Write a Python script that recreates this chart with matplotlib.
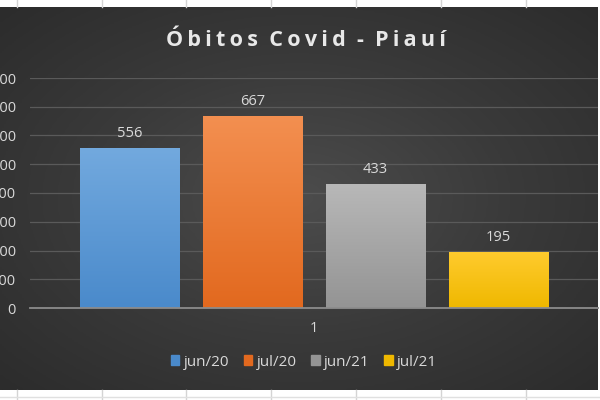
import matplotlib
matplotlib.use('Agg')
import matplotlib.pyplot as plt
from matplotlib.patches import Rectangle
from matplotlib.lines import Line2D
from matplotlib.colors import LinearSegmentedColormap
import numpy as np

months = ['jun/20', 'jul/20', 'jun/21', 'jul/21']
deaths = [556, 667, 433, 195]
category = ['1']
yticks = [0, 100, 200, 300, 400, 500, 600, 700, 800]
title = 'Óbitos Covid - Piauí'

colors_top = ['#72a9de', '#f38f50', '#b8b8b8', '#ffcb2e']
colors_bot = ['#4a8acb', '#e2691f', '#949494', '#efb800']

fig = plt.figure(figsize=(6, 4), dpi=100)
fig.patch.set_facecolor('white')

# dark chart panel with radial shading
bg = fig.add_axes([0, 10 / 400, 598 / 600, 383 / 400])
yy, xx = np.mgrid[-1:1:200j, -1:1:300j]
r = np.sqrt(xx ** 2 + yy ** 2)
bg_cmap = LinearSegmentedColormap.from_list('bg', ['#4c4c4c', '#3a3a3a', '#2c2c2c'])
bg.imshow(r, cmap=bg_cmap, aspect='auto', extent=[0, 1, 0, 1])
bg.set_axis_off()

# spreadsheet grid peeking through at top and bottom
for x in [17, 102, 186, 271, 356, 441, 526]:
    fig.add_artist(Line2D([x / 600, x / 600], [393 / 400, 1], color='#d4d4d4', lw=1))
    fig.add_artist(Line2D([x / 600, x / 600], [0, 10 / 400], color='#d4d4d4', lw=1))
fig.add_artist(Line2D([0, 1], [3 / 400, 3 / 400], color='#e0e0e0', lw=1))

ax = fig.add_axes([30 / 600, 92 / 400, 568 / 600, 230 / 400])
ax.patch.set_alpha(0)

step = 0.2165
width = 0.1743
offsets = [(i - 1.5) * step for i in range(len(months))]
bars = ax.bar(offsets, deaths, width=width, color=colors_bot, zorder=3,
              edgecolor='#2a2a2a', linewidth=0.6)

grad = np.linspace(1, 0, 100).reshape(-1, 1)
for bar, ct, cb in zip(bars, colors_top, colors_bot):
    cm = LinearSegmentedColormap.from_list('g', [cb, ct])
    x0, y0 = bar.get_x(), bar.get_y()
    im = ax.imshow(grad, cmap=cm, aspect='auto', zorder=3.5,
                   extent=[x0, x0 + bar.get_width(), y0, y0 + bar.get_height()])
    im.set_clip_path(bar)

for off, v in zip(offsets, deaths):
    ax.annotate(str(v), (off, v), xytext=(0, 5), textcoords='offset points',
                ha='center', va='bottom', color='#d9d9d9', fontsize=10.5,
                family='Open Sans')

ax.set_xlim(-0.5, 0.5)
ax.set_ylim(0, 800)
ax.set_yticks(yticks)
ax.set_xticks([0])
ax.set_xticklabels(category)
ax.grid(axis='y', color='#5a5a5a', lw=0.9, zorder=0)
for s in ['top', 'right', 'left']:
    ax.spines[s].set_visible(False)
ax.spines['bottom'].set_color('#8c8c8c')
ax.spines['bottom'].set_linewidth(1.3)
ax.spines['bottom'].set_zorder(4)
ax.tick_params(length=0, colors='#d9d9d9', labelsize=10.5, pad=9)
ax.tick_params(axis='y', pad=10)
for lab in ax.get_xticklabels() + ax.get_yticklabels():
    lab.set_family('Open Sans')

# Excel title uses extra character spacing
spaced = '\u2009'.join(title).replace('\u2009 \u2009', '  ')
fig.text(306 / 600, 1 - 40 / 400, spaced, ha='center', va='center',
         color='#e8e8e8', fontsize=15.5, fontweight='bold',
         family=['Open Sans', 'DejaVu Sans'])

handles = [Rectangle((0, 0), 1, 1, color=c) for c in colors_bot]
leg = fig.legend(handles, months, loc='center', bbox_to_anchor=(304 / 600, 1 - 362 / 400),
                 ncol=4, frameon=False, handlelength=0.55, handleheight=0.55,
                 handletextpad=0.3, columnspacing=0.95,
                 prop={'family': 'Open Sans', 'size': 11})
for t in leg.get_texts():
    t.set_color('#d9d9d9')

fig.savefig('out.png', dpi=100, facecolor=fig.get_facecolor())
